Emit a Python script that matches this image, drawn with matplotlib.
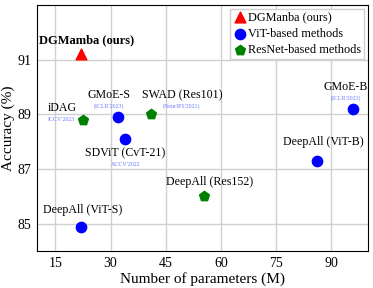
import matplotlib.pyplot as plt

plt.rcParams['font.family'] = ['Liberation Serif', 'DejaVu Serif']

# points: (name, params in M, accuracy)
ours_x = [22]
ours_y = [91.2]

vit_names = ['GMoE-S', 'SDViT (CvT-21)', 'DeepAll (ViT-S)', 'DeepAll (ViT-B)', 'GMoE-B']
vit_x = [32, 34, 22, 86, 96]
vit_y = [88.9, 88.1, 84.9, 87.3, 89.2]

res_names = ['iDAG', 'SWAD (Res101)', 'DeepAll (Res152)']
res_x = [22.5, 41, 55.5]
res_y = [88.8, 89.0, 86.0]

# text labels: (text, x, y)
labels = [
    ('iDAG', 16.8, 89.22),
    ('GMoE-S', 29.6, 89.7),
    ('SWAD (Res101)', 49.5, 89.7),
    ('SDViT (CvT-21)', 34, 87.58),
    ('DeepAll (ViT-S)', 22.5, 85.5),
    ('DeepAll (Res152)', 57, 86.53),
    ('DeepAll (ViT-B)', 87.7, 88.0),
    ('GMoE-B', 94, 90.0),
]
venues = [
    ("ICCV'2023", 16.6, 88.82),
    ("(ICLR'2023)", 29.6, 89.3),
    ("(NeurIPS'2021)", 49.3, 89.3),
    ("ACCV'2022", 34, 87.18),
    ("(ICLR'2023)", 94, 89.6),
]

fig = plt.figure(figsize=(3.73, 2.88), dpi=100)
ax = fig.add_axes([0.099, 0.128, 0.888, 0.855])

ax.scatter(ours_x, ours_y, marker='^', s=60, color='red', label='DGManba (ours)', zorder=3)
ax.scatter(vit_x, vit_y, marker='o', s=55, color='blue', label='ViT-based methods', zorder=3)
ax.scatter(res_x, res_y, marker='p', s=55, color='green', label='ResNet-based methods', zorder=3)

ax.text(23.6, 91.69, 'DGMamba (ours)', fontsize=9, fontweight='bold', ha='center', va='center')
for t, x, y in labels:
    ax.text(x, y, t, fontsize=8.6, ha='center', va='center')
for t, x, y in venues:
    ax.text(x, y, t, fontsize=4.3, color='#6a7cff', ha='center', va='center')

ax.set_xlim(10, 100)
ax.set_ylim(84, 93)
ax.set_xticks([15, 30, 45, 60, 75, 90])
ax.set_yticks([85, 87, 89, 91])
ax.tick_params(labelsize=10, length=0, pad=4)
ax.grid(True, color='#d0d0d0', linewidth=1)
ax.set_axisbelow(True)
ax.set_xlabel('Number of parameters (M)', fontsize=11, labelpad=2)
ax.set_ylabel('Accuracy (%)', fontsize=11, labelpad=2)

leg = ax.legend(loc='upper right', fontsize=8.8, handletextpad=0.05, borderpad=0.25,
                labelspacing=0.35, handlelength=1.2, borderaxespad=0.3,
                fancybox=False, framealpha=1)
leg.get_frame().set_edgecolor('#d0d0d0')

plt.savefig('out.png', dpi=100)
